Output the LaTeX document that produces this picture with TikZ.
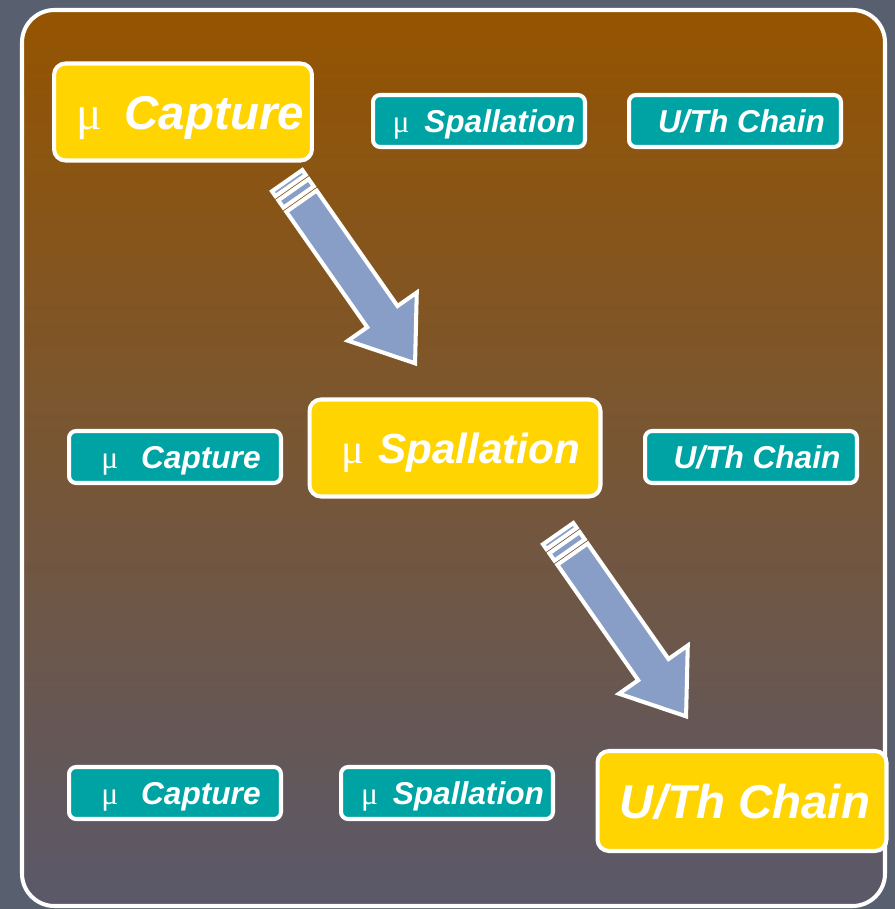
\documentclass[tikz,border=0pt]{standalone}
\usepackage{fontspec}
\setmainfont{Liberation Sans}
\newfontfamily\mufont{Liberation Serif}
\usetikzlibrary{positioning}

\definecolor{outergray}{RGB}{88,96,112}
\definecolor{paneltop}{RGB}{149,84,0}
\definecolor{panelbot}{RGB}{90,88,106}
\definecolor{boxyellow}{RGB}{255,212,0}
\definecolor{boxteal}{RGB}{0,163,163}
\definecolor{arrowblue}{RGB}{136,158,198}

% leading space, mu, extra gap
\newcommand{\mutext}[2]{\hspace*{#1}{\mufont\upshape\mdseries μ}\hspace{#2}}

\tikzset{
  bigbox/.style={draw=white, line width=2.3pt, fill=boxyellow, rounded corners=6.5pt,
    text=white, font=\fontsize{27}{30}\selectfont\bfseries\itshape,
    text height=19.4pt, text depth=0pt,
    minimum height=1.94cm, inner sep=0pt},
  smallbox/.style={draw=white, line width=2.3pt, fill=boxteal, rounded corners=4pt,
    text=white, font=\fontsize{18}{20}\selectfont\bfseries\itshape,
    text height=12.9pt, text depth=0pt,
    minimum width=4.24cm, minimum height=1.04cm, inner sep=0pt},
  blockarrow/.style={fill=arrowblue, draw=white, line width=2.3pt, line join=miter},
  pics/stripearrow/.style={code={
    \path[blockarrow] (2,-18.5) rectangle (8,18.5);
    \path[blockarrow] (13,-18.5) rectangle (22,18.5);
    \path[blockarrow] (27,-18.5) -- (168,-18.5) -- (168,-42) -- (225,0)
      -- (168,42) -- (168,18.5) -- (27,18.5) -- cycle;
  }}
}

\begin{document}
\begin{tikzpicture}[x=0.02cm, y=-0.02cm]
  \useasboundingbox (0,0) rectangle (895,909);
  % background and panel
  \fill[outergray] (0,0) rectangle (895,909);
  \draw[white, line width=2.3pt, top color=paneltop, bottom color=panelbot,
    rounded corners=0.65cm] (22,10) rectangle (885,906);

  % top row
  \node[bigbox, minimum width=5.16cm] (capA) at (183,112) {\mutext{0.28cm}{0.2cm} Capture};
  \node[smallbox] (spalA) at (479,121) {\mutext{0.2cm}{0.12cm} Spallation};
  \node[smallbox] (chainA) at (735,121) {\hspace*{0.26cm}U/Th Chain};

  % middle row
  \node[smallbox] (capB) at (175,457) {\mutext{0.24cm}{0.28cm} Capture};
  \node[bigbox, minimum width=5.82cm, font=\fontsize{24}{28}\selectfont\bfseries\itshape,
    text height=17.2pt] (spalB) at (455,448) {\mutext{0.22cm}{0.06cm} Spallation};
  \node[smallbox] (chainB) at (751,457) {\hspace*{0.24cm}U/Th Chain};

  % bottom row
  \node[smallbox] (capC) at (175,793) {\mutext{0.24cm}{0.28cm} Capture};
  \node[smallbox] (spalC) at (447,793) {\mutext{0.22cm}{0.12cm} Spallation};
  \node[bigbox, minimum width=5.78cm, minimum height=2cm] (chainC) at (742,801)
    {\hspace*{0.12cm}U/Th Chain};

  % arrows
  \coordinate (tailA) at (286,179);
  \coordinate (tailB) at (557,532);
  \pic[rotate=-55] at (tailA) {stripearrow};
  \pic[rotate=-55] at (tailB) {stripearrow};
\end{tikzpicture}
\end{document}
